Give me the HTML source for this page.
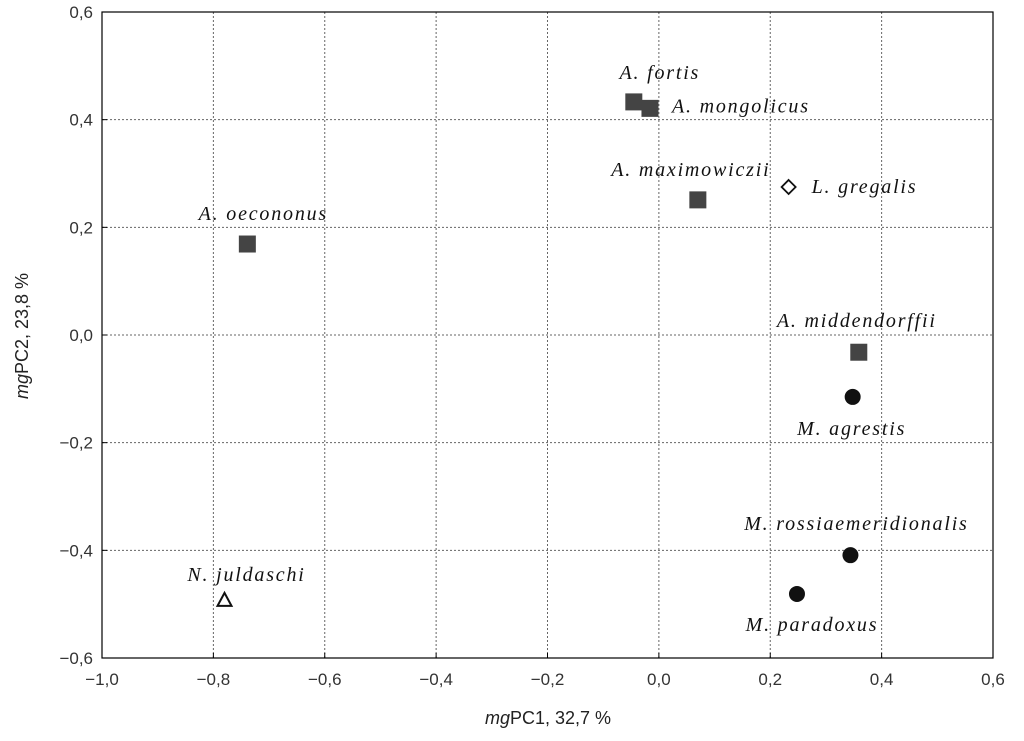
<!DOCTYPE html>
<html><head><meta charset="utf-8"><style>
html,body{margin:0;padding:0;background:#fff;}
svg{display:block;}
.tick{font-family:"Liberation Sans",sans-serif;font-size:17px;fill:#333;}
.lab{font-family:"Liberation Serif",serif;font-style:italic;font-size:20px;letter-spacing:1.8px;fill:#111;}
.ax{font-family:"Liberation Sans",sans-serif;font-size:18px;fill:#222;}
</style></head><body>
<svg id="chart" width="1024" height="741">
<g id="grid"></g>
<g id="axes"></g>
<g id="marks"></g>
<text class="ax" x="548" y="724" text-anchor="middle"><tspan font-style="italic">mg</tspan>PC1, 32,7 %</text>
<text class="ax" transform="translate(28,336) rotate(-90)" text-anchor="middle"><tspan font-style="italic">mg</tspan>PC2, 23,8 %</text>
</svg>
<script>
const species=["A. fortis","A. mongolicus","A. maximowiczii","L. gregalis","A. oecononus","A. middendorffii","M. agrestis","M. rossiaemeridionalis","M. paradoxus","N. juldaschi"];
const pc1=[-0.045,-0.016,0.07,0.233,-0.739,0.359,0.348,0.344,0.248,-0.78];
const pc2=[0.433,0.421,0.251,0.275,0.169,-0.032,-0.115,-0.409,-0.481,-0.492];
const groups=["square","square","square","diamond","square","square","circle","circle","circle","triangle"];
const xTicks=[-1.0,-0.8,-0.6,-0.4,-0.2,0.0,0.2,0.4,0.6];
const yTicks=[0.6,0.4,0.2,0.0,-0.2,-0.4,-0.6];
const labOff=[[26,-23,"middle"],[22,4,"start"],[-7,-24,"middle"],[23,6,"start"],[16,-24,"middle"],[-2,-25,"middle"],[-1,38,"middle"],[6,-25,"middle"],[15,37,"middle"],[22,-19,"middle"]];
const L=102,R=993,T=12,B=658;
const xs=v=>L+(v+1.0)/1.6*(R-L);
const ys=v=>B-(v+0.6)/1.2*(B-T);
const NS="http://www.w3.org/2000/svg";
function mk(p,t,a){const e=document.createElementNS(NS,t);for(const k in a)e.setAttribute(k,a[k]);p.appendChild(e);return e;}
const grid=document.getElementById('grid'),axes=document.getElementById('axes'),marks=document.getElementById('marks');
const fmt=v=>(v<0?"−":"")+Math.abs(v).toFixed(1).replace('.',',');
xTicks.forEach(v=>{const x=xs(v);
 if(v>-1&&v<0.6){const g=mk(grid,'line',{x1:x,x2:x,y1:T,y2:B,stroke:'#666','stroke-dasharray':'2,2','stroke-width':1});
 
 }
 const t=mk(axes,'text',{x:x,y:B+27,'text-anchor':'middle',class:'tick'});t.textContent=fmt(v);
 
 
 mk(axes,'line',{x1:x,x2:x,y1:B,y2:B-5,stroke:'#000'});});
yTicks.forEach(v=>{const y=ys(v);
 if(v>-0.6&&v<0.6){const g=mk(grid,'line',{x1:L,x2:R,y1:y,y2:y,stroke:'#666','stroke-dasharray':'2,2','stroke-width':1});
 
 }
 const t=mk(axes,'text',{x:L-9,y:y+6,'text-anchor':'end',class:'tick'});t.textContent=fmt(v);
 
 
 mk(axes,'line',{x1:L,x2:L+5,y1:y,y2:y,stroke:'#000'});});
const fr=mk(axes,'rect',{x:L,y:T,width:R-L,height:B-T,fill:'none',stroke:'#000','stroke-width':1.2});


species.forEach((s,i)=>{const x=xs(pc1[i]),y=ys(pc2[i]);let m;
 if(groups[i]=="square")m=mk(marks,'rect',{x:x-8.5,y:y-8.5,width:17,height:17,fill:'#444'});
 else if(groups[i]=="circle")m=mk(marks,'circle',{cx:x,cy:y,r:8,fill:'#111'});
 else if(groups[i]=="diamond")m=mk(marks,'polygon',{points:`${x},${y-7} ${x+7},${y} ${x},${y+7} ${x-7},${y}`,fill:'#fff',stroke:'#111','stroke-width':1.8});
 else m=mk(marks,'polygon',{points:`${x},${y-7} ${x+7},${y+6} ${x-7},${y+6}`,fill:'#fff',stroke:'#111','stroke-width':2});
 
 
 const o=labOff[i];const t=mk(marks,'text',{x:x+o[0],y:y+o[1],'text-anchor':o[2],class:'lab'});t.textContent=s;
 
 });
</script>
</body></html>
